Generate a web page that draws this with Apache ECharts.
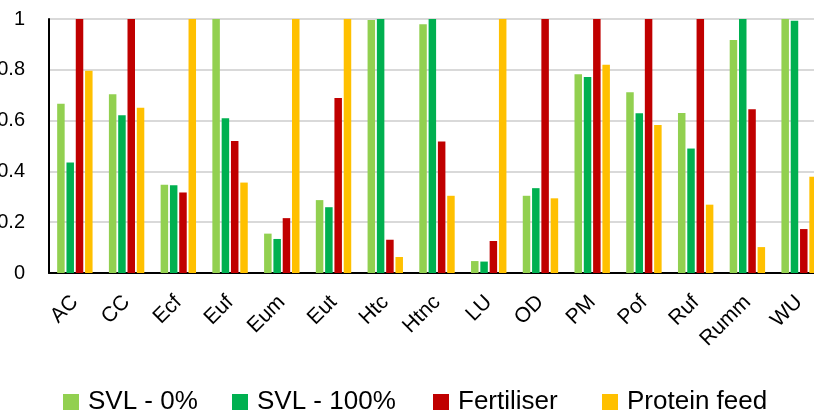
<!DOCTYPE html>
<html>
<head>
<meta charset="utf-8">
<script src="https://cdn.jsdelivr.net/npm/echarts@6/dist/echarts.min.js"></script>
<style>html,body{margin:0;padding:0;background:#fff}#c{width:814px;height:414px}</style>
</head>
<body>
<div id="c"></div>
<script>
const categories = ['AC','CC','Ecf','Euf','Eum','Eut','Htc','Htnc','LU','OD','PM','Pof','Ruf','Rumm','WU'];
const svl0 =       [0.666,0.704,0.347,1.000,0.155,0.287,0.996,0.979,0.047,0.304,0.782,0.712,0.630,0.917,1.000];
const svl100 =     [0.435,0.621,0.345,0.609,0.134,0.259,1.000,1.000,0.045,0.334,0.772,0.629,0.490,1.000,0.993];
const fertiliser = [1.000,1.000,0.317,0.520,0.216,0.689,0.131,0.518,0.126,1.000,1.000,1.000,1.000,0.645,0.173];
const proteinFeed= [0.796,0.651,1.000,0.356,1.000,1.000,0.063,0.304,1.000,0.294,0.820,0.583,0.269,0.102,0.379];
const seriesNames = ['SVL - 0%','SVL - 100%','Fertiliser','Protein feed'];
const colors = ['#92D050','#00B050','#C00000','#FFC000'];
const yTicks = [0,0.2,0.4,0.6,0.8,1];

const font = 'Liberation Sans, Arial, sans-serif';
const chart = echarts.init(document.getElementById('c'), null, {renderer:'canvas'});
const dataSets = [svl0, svl100, fertiliser, proteinFeed];
const legendLefts = [63, 232, 433, 602];
chart.setOption({
  animation:false,
  color: colors,
  textStyle:{fontFamily:font},
  grid:{left:49, top:19, bottom:141, width:776, containLabel:false, outerBoundsMode:'none'},
  legend: seriesNames.map((n,i)=>({
    left:legendLefts[i], top:389, itemWidth:16, itemHeight:16, padding:0,
    icon:'rect',
    textStyle:{fontSize:26, color:'#000', fontFamily:font, padding:[0,0,0,4]},
    data:[n]
  })),
  xAxis:{
    type:'category', data:categories,
    axisLine:{lineStyle:{color:'#000', width:2}},
    axisTick:{show:false},
    axisLabel:{rotate:45, fontSize:21, color:'#000', margin:26, interval:0, fontFamily:font}
  },
  yAxis:{
    type:'value', min:0, max:1, interval:0.2,
    axisLine:{show:true, lineStyle:{color:'#000', width:2}},
    axisTick:{show:false},
    splitLine:{lineStyle:{color:'#d9d9d9', width:2}},
    axisLabel:{fontSize:20, color:'#000', margin:24, fontFamily:font,
      formatter:(v)=> yTicks.includes(Math.round(v*10)/10) ? String(Math.round(v*10)/10) : ''}
  },
  series: seriesNames.map((n,i)=>({
    name:n, type:'bar', data:dataSets[i], barWidth:7.5, barGap:'24%',
    itemStyle:{color:colors[i]}
  }))
});
</script>
</body>
</html>
